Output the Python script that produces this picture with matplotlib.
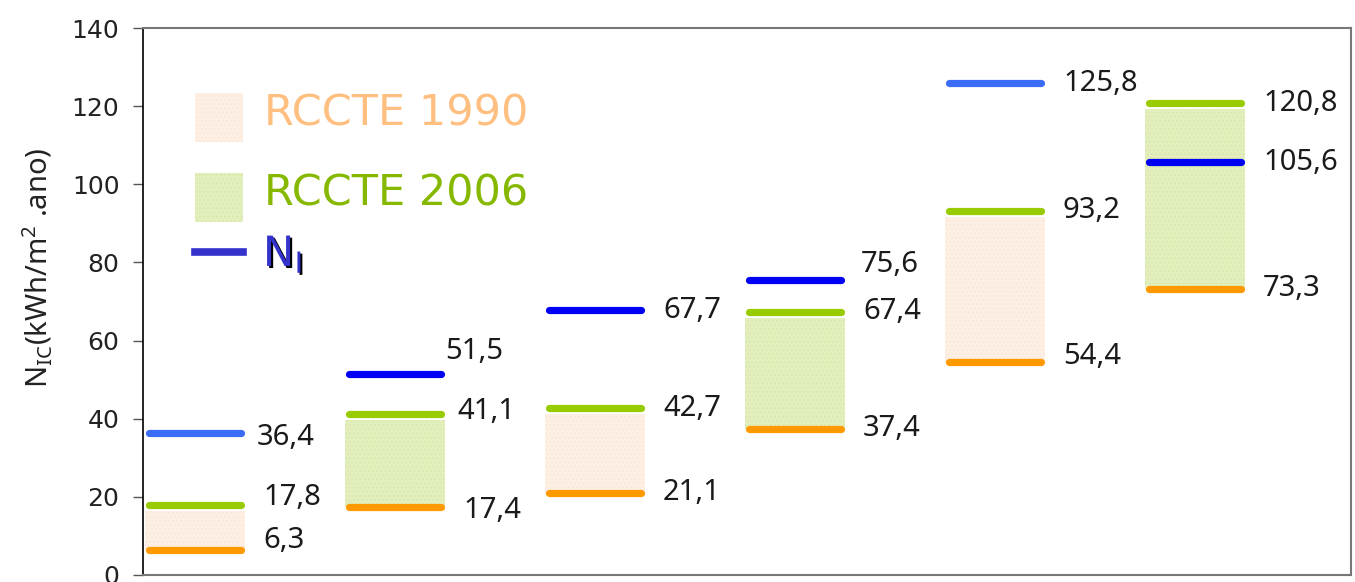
import matplotlib
matplotlib.use("Agg")
import matplotlib.pyplot as plt
import matplotlib.patheffects as pe
from matplotlib.patches import Rectangle

plt.rcParams["font.family"] = ["Noto Sans", "DejaVu Sans"]
plt.rcParams["hatch.linewidth"] = 0.6

# data
groups = [0, 1, 2, 3, 4, 5]
lower = [6.3, 17.4, 21.1, 37.4, 54.4, 73.3]        # orange line
upper = [17.8, 41.1, 42.7, 67.4, 93.2, 120.8]      # green line
ni = [36.4, 51.5, 67.7, 75.6, 125.8, 105.6]        # blue line (N_I)
band = ["1990", "2006", "1990", "2006", "1990", "2006"]
ni_shade = ["light", "dark", "dark", "dark", "light", "dark"]
yticks = [0, 20, 40, 60, 80, 100, 120, 140]


def fmt(v):
    return f"{v:.1f}".replace(".", ",")


W, H = 1355, 582
fig = plt.figure(figsize=(W / 100, H / 100), dpi=100)
ax = fig.add_axes([143 / W, 7 / H, (1351 - 143) / W, (575 - 28) / H])

band_fill = {"1990": "#fdefe3", "2006": "#e2efbc"}
band_hatch = {"1990": "#fbe6d4", "2006": "#d6e8a6"}
blue = {"light": "#3a6cf5", "dark": "#0000f5"}
orange = "#ff9900"
green = "#99cc00"

half = 0.25
inset = 0.018
gap = 1.5

for g, lo, hi, n, b, s in zip(groups, lower, upper, ni, band, ni_shade):
    ax.add_patch(Rectangle((g - half, lo), 2 * half, hi - gap - lo,
                           facecolor=band_fill[b], edgecolor=band_hatch[b],
                           hatch="....", linewidth=0, zorder=1))
    for v, c in ((lo, orange), (hi, green), (n, blue[s])):
        ax.plot([g - half + inset, g + half - inset], [v, v], color=c, lw=5.2,
                solid_capstyle="round", zorder=3)

# value labels, nudges in pixels (dx, dy) where the reference shifts them
nudge = {(0, "ni"): (-6, -5), (0, "hi"): (0, 8), (0, "lo"): (0, 10),
         (1, "ni"): (-18, 22), (1, "hi"): (-6, 3), (1, "lo"): (0, -3),
         (3, "ni"): (-2, 15), (4, "lo"): (0, 6)}
for g in groups:
    for key, v in (("lo", lower[g]), ("hi", upper[g]), ("ni", ni[g])):
        dx, dy = nudge.get((g, key), (0, 0))
        ax.annotate(fmt(v), (g + half, v), xytext=((18 + dx) * 0.72, dy * 0.72),
                    textcoords="offset points", ha="left", va="center",
                    fontsize=21, color="#1a1a1a", zorder=4)

ax.set_xlim(-0.26, 5.78)
ax.set_ylim(0, 140)
ax.set_yticks(yticks)
ax.set_yticklabels([str(t) for t in yticks], family="DejaVu Sans")
ax.set_xticks([])
ax.tick_params(axis="y", length=7, width=1, color="#555555", pad=10,
               labelsize=18, labelcolor="#222222")
for side in ("top", "right", "bottom"):
    ax.spines[side].set_color("#777777")
    ax.spines[side].set_linewidth(1.5)
ax.spines["left"].set_color("black")
ax.spines["left"].set_linewidth(1.2)

fig.text(38 / W, 1 - 268 / H,
         r"N$_{\mathregular{IC}}$(kWh/m$^{\mathregular{2}}$ .ano)",
         rotation=90, ha="center", va="center", fontsize=21, color="#222222")


# hand-drawn legend
def px(x, y):
    return x / W, 1 - y / H


for (y0, b, label, col) in ((93, "1990", "RCCTE 1990", "#ffbf80"),
                            (173, "2006", "RCCTE 2006", "#86b800")):
    fig.patches.append(Rectangle(px(195, y0 + 49), 48 / W, 49 / H,
                                 transform=fig.transFigure,
                                 facecolor=band_fill[b], edgecolor=band_hatch[b],
                                 hatch="....", linewidth=0))
    fig.text(*px(264, y0 + 21), label, ha="left", va="center", fontsize=31,
             color=col, family="DejaVu Sans")

fig.add_artist(plt.Line2D([195 / W, 243 / W], [1 - 252 / H] * 2,
                          transform=fig.transFigure, color="#3333cc", lw=5.5))
fig.text(*px(263, 254), r"N$_{\mathregular{I}}$", ha="left", va="center",
         fontsize=30, color="#3333cc", family="DejaVu Sans",
         path_effects=[pe.SimplePatchShadow(offset=(1.5, -1.5),
                                            shadow_rgbFace="black", alpha=1),
                       pe.Normal()])

fig.savefig("out.png", dpi=100)
